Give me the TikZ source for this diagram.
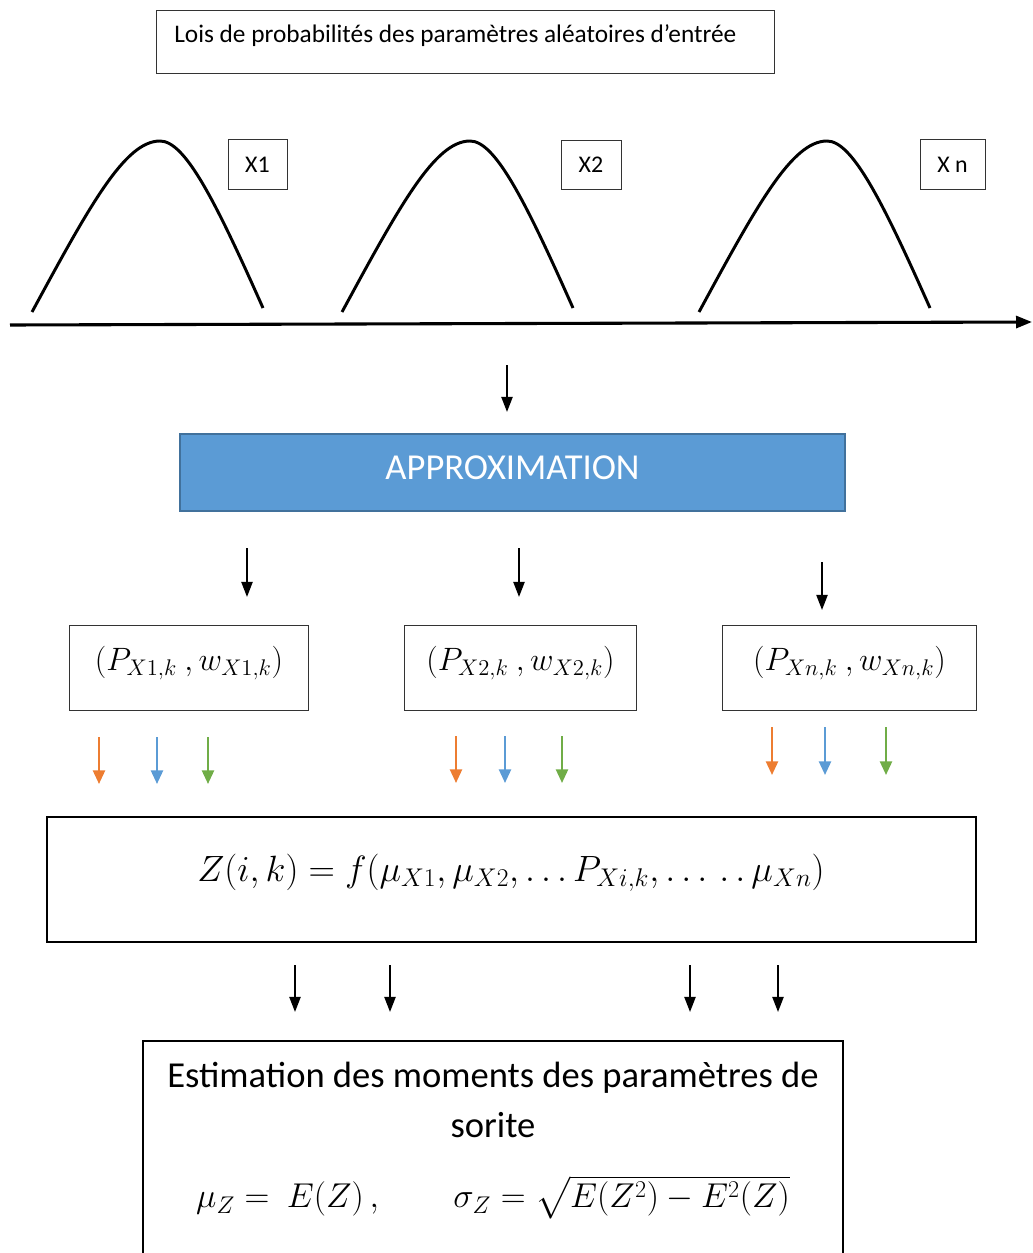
\documentclass[tikz,border=0pt]{standalone}
\usepackage{fix-cm}
\usepackage[no-math]{fontspec}
\setmainfont{Carlito}
\usepackage{amsmath}
\usetikzlibrary{arrows.meta,positioning}

\definecolor{approxblue}{HTML}{5B9BD5}
\definecolor{approxedge}{HTML}{41719C}
\definecolor{arrorange}{HTML}{ED7D31}
\definecolor{arrblue}{HTML}{5B9BD5}
\definecolor{arrgreen}{HTML}{70AD47}

\begin{document}
\begin{tikzpicture}[
    x=0.025cm, y=-0.025cm,
    box/.style={draw=black!80, line width=0.7pt, inner sep=0pt},
    tag/.style={box, minimum height=1.225cm, font=\fontsize{17}{20}\selectfont},
    pbox/.style={box, minimum height=2.125cm, font=\fontsize{23}{28}\selectfont},
    arr/.style={-{Triangle[length=3.8mm, width=2.8mm]}, line width=1.4pt},
    carr/.style={-{Triangle[length=3.4mm, width=3mm]}, line width=1.6pt},
    bell/.style={line width=2.1pt}
]
\useasboundingbox (0,0) rectangle (1032,1253);

% input laws
\node[box, anchor=north west, minimum width=15.45cm, minimum height=1.575cm] (laws) at (156,10) {};
\node[anchor=west, inner sep=0pt, font=\fontsize{18}{21}\selectfont] (lawstxt) at ([xshift=0.45cm, yshift=0.15cm]laws.west) {Lois de probabilités des paramètres aléatoires d’entrée};

\foreach \dx in {0,310,667}
  \draw[bell, shift={(\dx,0)}] (32,312) .. controls (90,205) and (125,141) .. (160,141)
        .. controls (185,141) and (215,200) .. (263,308);

\node[tag, minimum width=1.475cm] (x1) at (257.5,164.5) {X1};
\node[tag, minimum width=1.5cm] (x2) at (591,165) {X2};
\node[tag, minimum width=1.625cm] (xn) at (952.5,164.5) {X n};

\coordinate (axis-start) at (10,325);
\coordinate (axis-end) at (1032,322);
\draw[-{Triangle[length=4mm, width=3mm]}, line width=2.2pt] (axis-start) -- (axis-end);

% approximation
\node[draw=approxedge, line width=1pt, fill=approxblue, minimum width=16.625cm, minimum height=1.925cm,
      text=white, font=\fontsize{26}{30}\selectfont] (approx) at (512.5,472.5) {\rule[-0.25cm]{0pt}{0pt}APPROXIMATION};

\node[pbox, minimum width=5.95cm] (p1) at (189,667.5) {\rule[-0.45cm]{0pt}{0pt}$(P_{X1,k}\ ,w_{X1,k})$};
\node[pbox, minimum width=5.775cm] (p2) at (520.5,667.5) {\rule[-0.45cm]{0pt}{0pt}$(P_{X2,k}\ ,w_{X2,k})$};
\node[pbox, minimum width=6.325cm] (pn) at (849.5,667.5) {\rule[-0.45cm]{0pt}{0pt}$(P_{Xn,k}\ ,w_{Xn,k})$};

\foreach \n/\x/\ya/\yb in {a0/507/365/412, a1/247/548/597, a2/519/548/597, a3/822/562/610,
                          b1/295/965/1012, b2/390/965/1012, b3/690/965/1012, b4/778/965/1012} {
  \coordinate (\n-top) at (\x,\ya);
  \coordinate (\n-bot) at (\x,\yb);
  \draw[arr] (\n-top) -- (\n-bot);
}

% the three points of each law
\foreach \p/\xa/\xb/\xc/\ya/\yb in {1/99/157/208/737/784, 2/456/505/562/736/783, n/772/825/886/727/775}
  \foreach \c/\x in {arrorange/\xa, arrblue/\xb, arrgreen/\xc} {
    \coordinate (\p\c-top) at (\x,\ya);
    \coordinate (\p\c-bot) at (\x,\yb);
    \draw[carr, \c] (\p\c-top) -- (\p\c-bot);
  }

% model
\node[draw, line width=1.5pt, minimum width=23.225cm, minimum height=3.125cm] (model) at (511.5,879.5) {};
\node[font=\fontsize{26}{31}\selectfont] (modeltxt) at (511,873)
  {$Z(i,k) = f(\mu_{X1},\mu_{X2},\ldots P_{Xi,k},\ldots\,.\,.\,\mu_{Xn})$};

% moments
\node[draw, line width=1.5pt, anchor=north, minimum width=17.5cm, minimum height=6cm] (est) at (493,1040) {};
\node[font=\fontsize{26}{30}\selectfont] (esttxt) at (493,1078) {Estimation des moments des paramètres de};
\node[font=\fontsize{26}{30}\selectfont] (esttxt2) at (493,1125) {sorite};
\node[font=\fontsize{24.5}{29}\selectfont] (estmath) at (493,1197)
  {$\mu_Z =\ E(Z)\,,\qquad \sigma_Z = \sqrt{E(Z^2)-E^2(Z)}$};
\end{tikzpicture}
\end{document}
